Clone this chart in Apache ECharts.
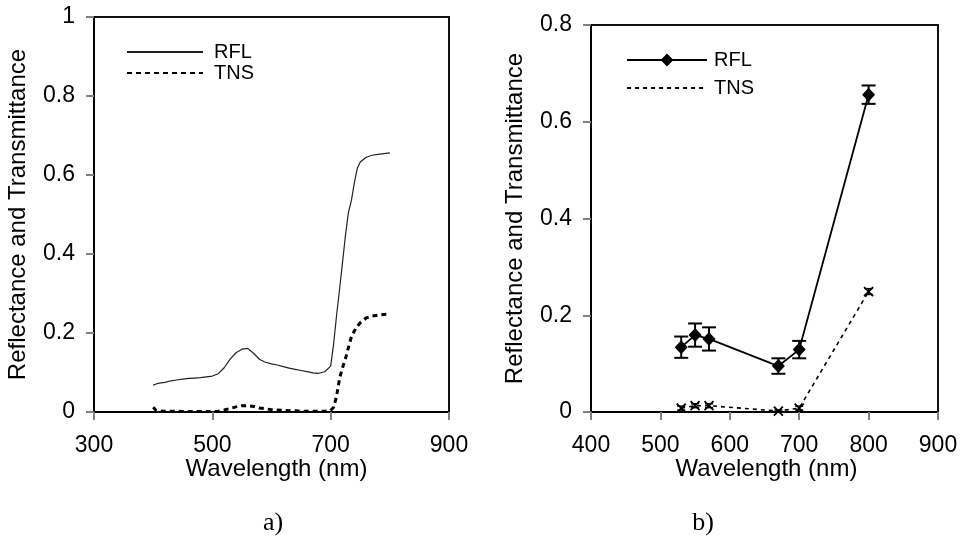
<!DOCTYPE html>
<html>
<head>
<meta charset="utf-8">
<script src="https://cdn.jsdelivr.net/npm/echarts@6/dist/echarts.min.js"></script>
<style>html,body{margin:0;padding:0;background:#fff}#c{width:966px;height:538px}</style>
</head>
<body>
<div id="c"></div>
<script>
// ---- Panel a) : spectra ----
var wlA  = [400,405,410,420,430,440,450,460,470,480,490,500,510,520,530,540,550,560,570,580,590,600,610,620,630,640,650,660,670,680,690,700,705,710,715,720,725,730,735,740,745,750,760,770,780,790,800];
var rflA = [0.068,0.071,0.073,0.075,0.079,0.081,0.083,0.085,0.086,0.087,0.089,0.091,0.097,0.112,0.134,0.150,0.159,0.161,0.148,0.133,0.126,0.122,0.119,0.115,0.111,0.108,0.105,0.102,0.099,0.098,0.102,0.116,0.172,0.245,0.310,0.378,0.447,0.505,0.535,0.580,0.617,0.633,0.645,0.650,0.652,0.654,0.656];
var tnsA = [0.012,0.004,0.003,0.002,0.002,0.002,0.001,0.001,0.001,0.001,0.001,0.001,0.002,0.005,0.009,0.013,0.016,0.016,0.014,0.010,0.008,0.006,0.005,0.004,0.003,0.003,0.002,0.002,0.002,0.002,0.002,0.004,0.012,0.040,0.085,0.112,0.135,0.163,0.190,0.205,0.217,0.226,0.238,0.243,0.245,0.247,0.248];

// ---- Panel b) : band means with error bars ----
var wlB    = [530,550,570,670,700,800];
var rflB   = [0.134,0.159,0.151,0.095,0.129,0.656];
var rflErr = [0.022,0.024,0.024,0.016,0.018,0.019];
var tnsB   = [0.008,0.013,0.013,0.002,0.008,0.249];
var tnsErr = [0.004,0.004,0.004,0.002,0.004,0.006];

// ---- axis ticks ----
var xTicksA = {min:300, max:900, interval:200};
var yTicksA = {min:0, max:1, interval:0.2};
var xTicksB = {min:400, max:900, interval:100};
var yTicksB = {min:0, max:0.8, interval:0.2};

function pairs(xs, ys){ return xs.map(function(x,i){ return [x, ys[i]]; }); }
function bars(xs, ys, es){ return xs.map(function(x,i){ return [x, ys[i]-es[i], ys[i]+es[i]]; }); }

var FONT = "'Liberation Sans', Arial, sans-serif";
var axisLine = {show:true, onZero:false, lineStyle:{color:'#000', width:2}};
var axisTick = {show:true, inside:false, length:8, lineStyle:{color:'#808080', width:2}};
var lblStyle = {color:'#000', fontFamily:FONT, fontSize:23};
var nameStyle = {color:'#000', fontFamily:FONT, fontSize:24};

function xAx(t, gi, pad){
  return {type:'value', gridIndex:gi, min:t.min, max:t.max, interval:t.interval,
    name:'Wavelength (nm)', nameLocation:'middle', nameGap:45, nameMoveOverlap:false,
    nameTextStyle:Object.assign({padding:[0,0,0,pad]}, nameStyle),
    axisLine:axisLine, axisTick:axisTick, splitLine:{show:false},
    axisLabel:Object.assign({margin:22, showMinLabel:true, showMaxLabel:true}, lblStyle)};
}
function yAx(t, gi){
  return {type:'value', gridIndex:gi, min:t.min, max:t.max, interval:t.interval,
    name:'Reflectance and Transmittance', nameLocation:'middle', nameGap:64, nameMoveOverlap:false,
    nameTextStyle:nameStyle,
    axisLine:axisLine, axisTick:axisTick, splitLine:{show:false},
    axisLabel:Object.assign({margin:19, showMinLabel:true, showMaxLabel:true}, lblStyle)};
}

function errRender(params, api){
  var x = api.value(0), lo = api.value(1), hi = api.value(2);
  var a = api.coord([x, lo]), b = api.coord([x, hi]);
  var hw = params.seriesName === 'errR' ? 7 : 4;
  var st = {stroke:'#000', lineWidth: params.seriesName === 'errR' ? 2 : 1.5};
  return {type:'group', children:[
    {type:'line', shape:{x1:a[0], y1:a[1], x2:b[0], y2:b[1]}, style:st},
    {type:'line', shape:{x1:a[0]-hw, y1:a[1], x2:a[0]+hw, y2:a[1]}, style:st},
    {type:'line', shape:{x1:b[0]-hw, y1:b[1], x2:b[0]+hw, y2:b[1]}, style:st}
  ]};
}

function legendItem(name, left, top, gapPad, hideSymbol, iw, ih){
  return {data:[name], left:left, top:top, orient:'vertical', selectedMode:false,
    itemWidth:iw, itemHeight:ih, padding:0,
    itemStyle: hideSymbol ? {opacity:0} : undefined,
    formatter:function(n){ return n.split('_')[0]; },
    textStyle:{color:'#000', fontFamily:FONT, fontSize:20, lineHeight:20, padding:[0,0,0,gapPad]}};
}

var chart = echarts.init(document.getElementById('c'), null, {renderer:'canvas'});
chart.setOption({
  backgroundColor:'#fff',
  animation:false,
  grid:[
    {left:94, top:17, width:355, height:395, show:true, borderColor:'#111', borderWidth:2, backgroundColor:'transparent', containLabel:false, outerBoundsMode:'none'},
    {left:591, top:25, width:347, height:387, show:true, borderColor:'#111', borderWidth:2, backgroundColor:'transparent', containLabel:false, outerBoundsMode:'none'}
  ],
  xAxis:[xAx(xTicksA,0,10), xAx(xTicksB,1,4)],
  yAxis:[yAx(yTicksA,0), yAx(yTicksB,1)],
  legend:[
    legendItem('RFL_a', 126, 42, 6, true, 76, 12),
    legendItem('TNS_a', 126, 63, 6, true, 76, 12),
    legendItem('RFL_b', 626, 50, 2, false, 80, 16),
    legendItem('TNS_b', 626, 78, 2, false, 80, 12)
  ],
  title:[
    {text:'a)', left:268, top:505, textAlign:'center', textStyle:{fontFamily:"'Liberation Serif', 'Times New Roman', serif", fontSize:26, fontWeight:'normal', color:'#000'}},
    {text:'b)', left:698, top:505, textAlign:'center', textStyle:{fontFamily:"'Liberation Serif', 'Times New Roman', serif", fontSize:26, fontWeight:'normal', color:'#000'}}
  ],
  series:[
    {name:'RFL_a', type:'line', xAxisIndex:0, yAxisIndex:0, data:pairs(wlA, rflA), symbol:'none',
      lineStyle:{color:'#222', width:1.2}, itemStyle:{color:'#222'}},
    {name:'TNS_a', type:'line', xAxisIndex:0, yAxisIndex:0, data:pairs(wlA, tnsA), symbol:'none',
      lineStyle:{color:'#000', width:3, type:[5,4]}, itemStyle:{color:'#000'}},
    {name:'errR', type:'custom', xAxisIndex:1, yAxisIndex:1, renderItem:errRender, data:bars(wlB, rflB, rflErr),
      encode:{x:0, y:[1,2]}, z:1, silent:true},
    {name:'errT', type:'custom', xAxisIndex:1, yAxisIndex:1, renderItem:errRender, data:bars(wlB, tnsB, tnsErr),
      encode:{x:0, y:[1,2]}, z:1, silent:true},
    {name:'RFL_b', type:'line', xAxisIndex:1, yAxisIndex:1, data:pairs(wlB, rflB), symbol:'diamond', symbolSize:[13,14],
      lineStyle:{color:'#000', width:1.8}, itemStyle:{color:'#000'}, z:3},
    {name:'TNS_b', type:'line', xAxisIndex:1, yAxisIndex:1, data:pairs(wlB, tnsB),
      symbol:'path://M0,0L10,10M10,0L0,10', symbolSize:9, symbolKeepAspect:true,
      lineStyle:{color:'#000', width:1.6, type:[4,4]}, itemStyle:{color:'#000', borderColor:'#000', borderWidth:1.8}, z:3}
  ]
});
</script>
</body>
</html>
